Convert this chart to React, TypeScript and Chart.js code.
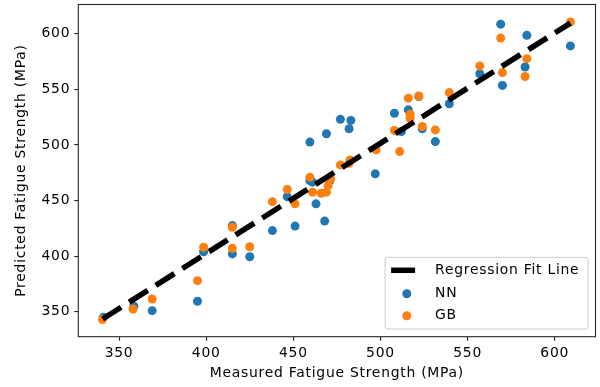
import React, { useEffect, useRef } from "react";
import { Chart, registerables } from "chart.js";

Chart.register(...registerables);

const nnX = [341, 358.5, 369, 395, 398.5, 415, 415, 425, 438, 446.5, 451, 459.5, 461, 459.5, 463, 468, 469, 471, 477, 483, 482, 497, 508, 512, 516, 522, 524, 531.5, 539.5, 557, 569, 570, 583, 584, 609];
const nnY = [345, 355, 351, 359.5, 404, 427.5, 402, 399.5, 423, 453.5, 427, 468, 466.5, 502.5, 447, 431.5, 510, 468, 523, 522, 514.5, 474, 528.5, 512, 531.5, 543.5, 514.5, 503, 537, 564, 608.5, 553.5, 570, 598.5, 589];

const gbX = [340.5, 358, 369, 395, 398.5, 415, 415, 425, 438, 446.5, 451, 459.5, 461, 466, 469, 470, 471.4, 477, 482.5, 482, 497.5, 508, 511, 516, 517, 517, 522, 524, 531.5, 539.5, 557, 569, 570, 583, 584, 609];
const gbY = [343, 352.5, 361.5, 378, 408, 426, 407, 408.5, 449, 460, 447, 471, 457.5, 456.5, 457.5, 463.5, 469.5, 482, 486.5, 483.5, 495.5, 513, 494, 542, 527.5, 524, 544, 516.5, 513.5, 547, 571, 596, 565, 561.5, 577.5, 610.5];

const fitX = [340.5, 609];
const fitY = [343.5, 609.5];

const xTicks = [350, 400, 450, 500, 550, 600];
const yTicks = [350, 400, 450, 500, 550, 600];

const xTitle = "Measured Fatigue Strength (MPa)";
const yTitle = "Predicted Fatigue Strength (MPa)";
const fitLabel = "Regression Fit Line";
const nnLabel = "NN";
const gbLabel = "GB";

const FONT = "DejaVu Sans";
const FS = 13.9;
const SPACING = "0.75px";
const BLUE = "#1f77b4";
const ORANGE = "#ff7f0e";

const spacingPlugin = {
  id: "spacing",
  beforeLayout(chart: any) { chart.ctx.letterSpacing = SPACING; },
  beforeDraw(chart: any) { chart.ctx.letterSpacing = SPACING; },
};

const framePlugin = {
  id: "frame",
  afterDraw(chart: any) {
    const { ctx, chartArea } = chart;
    ctx.save();
    ctx.letterSpacing = SPACING;
    ctx.strokeStyle = "#262626";
    ctx.lineWidth = 1.1;
    ctx.strokeRect(chartArea.left, chartArea.top, chartArea.right - chartArea.left, chartArea.bottom - chartArea.top);

    const ds = chart.data.datasets;
    const w = 203;
    const h = 71.7;
    const x0 = chartArea.right - 7.4 - w;
    const y0 = chartArea.bottom - 7.7 - h;
    ctx.beginPath();
    const r = 3;
    ctx.moveTo(x0 + r, y0);
    ctx.lineTo(x0 + w - r, y0);
    ctx.quadraticCurveTo(x0 + w, y0, x0 + w, y0 + r);
    ctx.lineTo(x0 + w, y0 + h - r);
    ctx.quadraticCurveTo(x0 + w, y0 + h, x0 + w - r, y0 + h);
    ctx.lineTo(x0 + r, y0 + h);
    ctx.quadraticCurveTo(x0, y0 + h, x0, y0 + h - r);
    ctx.lineTo(x0, y0 + r);
    ctx.quadraticCurveTo(x0, y0, x0 + r, y0);
    ctx.closePath();
    ctx.fillStyle = "rgba(255,255,255,0.8)";
    ctx.fill();
    ctx.strokeStyle = "#cccccc";
    ctx.lineWidth = 1;
    ctx.stroke();

    ctx.font = `${FS}px "${FONT}"`;
    ctx.textBaseline = "middle";
    ctx.textAlign = "left";
    ctx.fillStyle = "#000";
    const tx = x0 + 50;
    const rows = [y0 + 13, y0 + 36.4, y0 + 58.4];
    ctx.strokeStyle = "#000";
    ctx.lineWidth = 5.5;
    ctx.lineCap = "butt";
    ctx.beginPath();
    ctx.moveTo(x0 + 6, rows[0]);
    ctx.lineTo(x0 + 30, rows[0]);
    ctx.stroke();
    ctx.fillText(ds[0].label, tx, rows[0]);
    const entries = [ds[2], ds[1]];
    entries.forEach((d: any, i: number) => {
      ctx.beginPath();
      ctx.arc(x0 + 21.7, rows[i + 1], 4.5, 0, Math.PI * 2);
      ctx.fillStyle = d.backgroundColor;
      ctx.fill();
      ctx.fillStyle = "#000";
      ctx.fillText(d.label, tx, rows[i + 1]);
    });
    ctx.restore();
  },
};

export default function App() {
  const ref = useRef<HTMLCanvasElement>(null);
  useEffect(() => {
    if (!ref.current) return;
    const chart = new Chart(ref.current, {
      type: "scatter",
      data: {
        datasets: [
          {
            type: "line",
            label: fitLabel,
            data: fitX.map((x, i) => ({ x, y: fitY[i] })),
            borderColor: "#000",
            borderWidth: 5.5,
            borderDash: [22, 9.5],
            borderCapStyle: "butt",
            pointRadius: 0,
            fill: false,
          } as any,
          {
            label: gbLabel,
            data: gbX.map((x, i) => ({ x, y: gbY[i] })),
            backgroundColor: ORANGE,
            borderWidth: 0,
            pointRadius: 4.5,
          },
          {
            label: nnLabel,
            data: nnX.map((x, i) => ({ x, y: nnY[i] })),
            backgroundColor: BLUE,
            borderWidth: 0,
            pointRadius: 4.5,
          },
        ],
      },
      options: {
        animation: false,
        responsive: false,
        maintainAspectRatio: false,
        layout: { padding: { left: 0, right: 2.3, top: 3.5, bottom: 0 } },
        plugins: { legend: { display: false }, tooltip: { enabled: false } },
        scales: {
          x: {
            type: "linear",
            min: 326.6,
            max: 623.4,
            afterFit: (s: any) => { s.height = 50.3; s.paddingLeft = 0; s.paddingRight = 0; },
            afterBuildTicks: (s: any) => { s.ticks = xTicks.map((v) => ({ value: v })); },
            grid: { display: true, drawOnChartArea: false, drawTicks: true, tickLength: 4, color: "#262626", lineWidth: 1.1 },
            border: { display: false },
            ticks: { color: "#000", font: { family: FONT, size: FS }, padding: 4, maxRotation: 0 },
            title: { display: true, text: xTitle, color: "#000", font: { family: FONT, size: FS }, padding: { top: 5.5, bottom: 5.5 } },
          },
          y: {
            type: "linear",
            min: 327.6,
            max: 626.2,
            afterFit: (s: any) => { s.width = 78.3; s.paddingTop = 0; s.paddingBottom = 0; },
            afterBuildTicks: (s: any) => { s.ticks = yTicks.map((v) => ({ value: v })); },
            grid: { display: true, drawOnChartArea: false, drawTicks: true, tickLength: 4, color: "#262626", lineWidth: 1.1 },
            border: { display: false },
            ticks: { color: "#000", font: { family: FONT, size: FS }, padding: 4 },
            title: { display: true, text: yTitle, color: "#000", font: { family: FONT, size: FS }, padding: { top: 13, bottom: 13 } },
          },
        },
      },
      plugins: [spacingPlugin, framePlugin],
    });
    return () => chart.destroy();
  }, []);
  return (
    <div style={{ position: "absolute", left: 0, top: 0, width: 600, height: 387, background: "#fff" }}>
      <canvas ref={ref} width={600} height={387} style={{ width: 600, height: 387, display: "block" }} />
    </div>
  );
}
